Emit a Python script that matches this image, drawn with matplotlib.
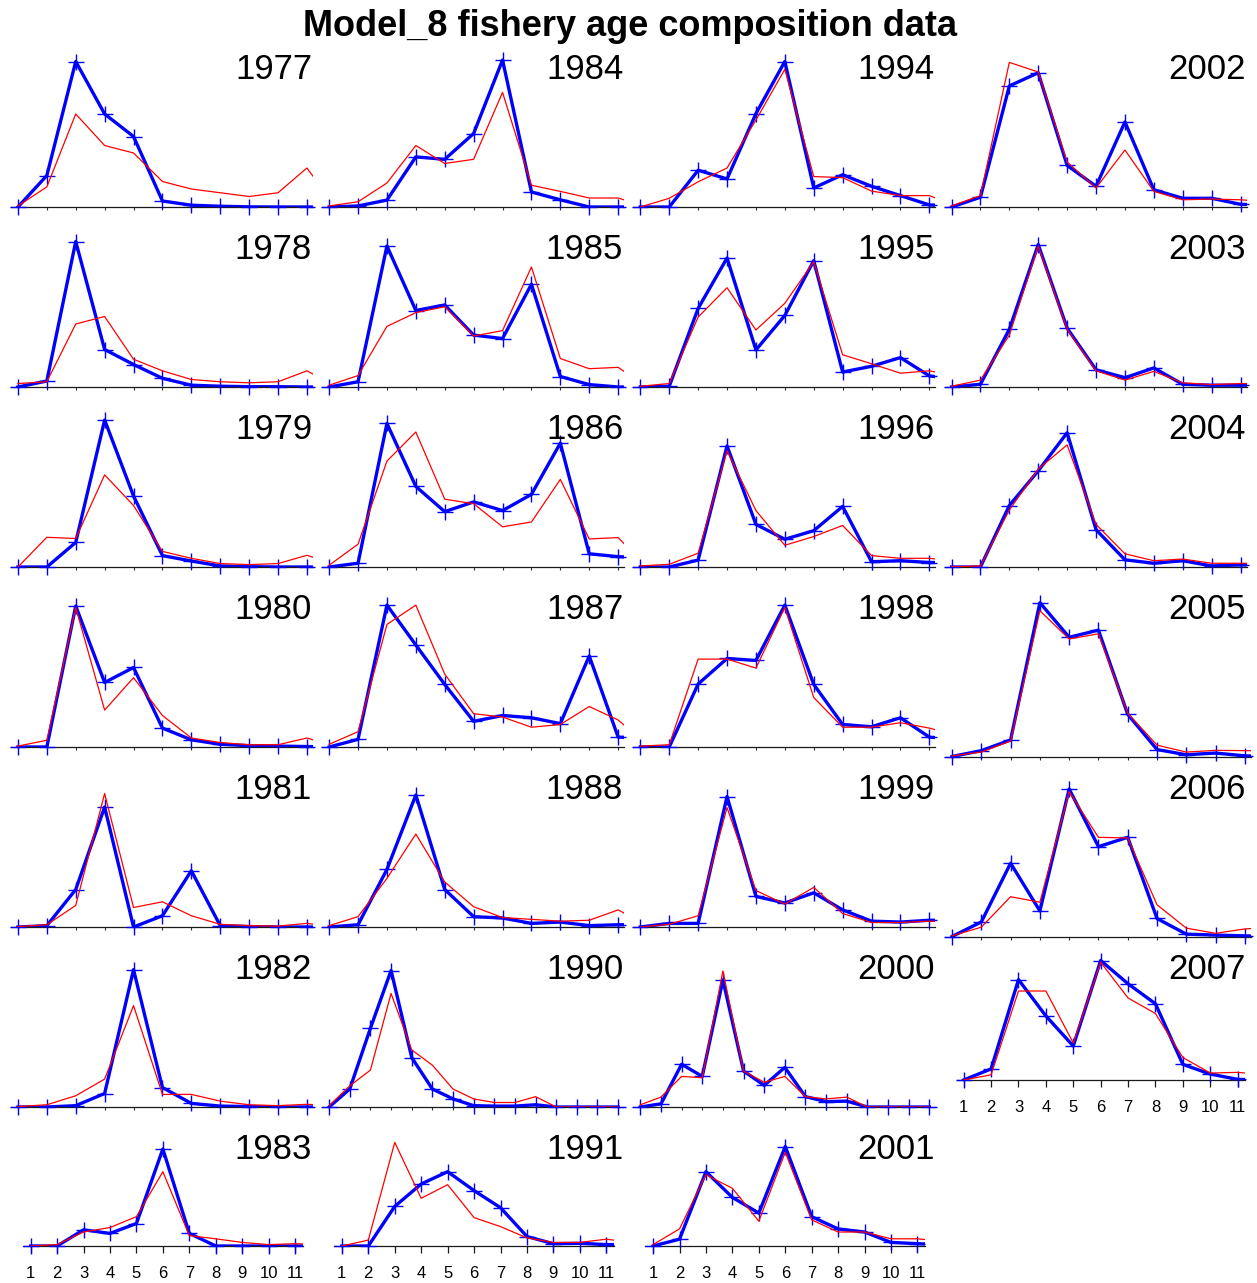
import numpy as np
import matplotlib
matplotlib.use("Agg")
import matplotlib.pyplot as plt

plt.rcParams['font.family'] = ['Liberation Sans', 'DejaVu Sans']

TITLE = "Model_8 fishery age composition data"

# age bins (the 12th is the plus group, running off the right edge of each panel)
AGES = np.arange(1, 13)
AGE_LABELS = [str(a) for a in range(1, 12)]
# two years were sampled on a finer grid of 15 bins over the same age span
BINS15 = np.linspace(1, 11, 15)

# years shown in each column of panels
COL1_YEARS = [1977, 1978, 1979, 1980, 1981, 1982, 1983]
COL2_YEARS = [1984, 1985, 1986, 1987, 1988, 1990, 1991]
COL3_YEARS = [1994, 1995, 1996, 1998, 1999, 2000, 2001]
COL4_YEARS = [2002, 2003, 2004, 2005, 2006, 2007]

# observed (blue) and expected (red) composition, relative units
OBS_1977 = [0, 0.21, 0.97, 0.62, 0.47, 0.04, 0.012, 0.005, 0.001, 0, 0, 0]
EXP_1977 = [0.007, 0.134, 0.62, 0.41, 0.36, 0.17, 0.12, 0.095, 0.07, 0.095, 0.26, 0.0]
OBS_1978 = [0, 0.04, 0.97, 0.25, 0.15, 0.058, 0.012, 0.005, 0.002, 0.002, 0, 0]
EXP_1978 = [0.023, 0.035, 0.42, 0.47, 0.185, 0.108, 0.05, 0.035, 0.028, 0.035, 0.108, 0.005]
OBS_1979 = [0, 0, 0.164, 0.98, 0.473, 0.076, 0.04, 0.007, 0.002, 0, 0, 0]
EXP_1979 = [0, 0.198, 0.19, 0.614, 0.41, 0.104, 0.058, 0.023, 0.016, 0.023, 0.078, 0.016]
OBS_1980 = [0, 0, 0.94, 0.43, 0.53, 0.126, 0.048, 0.018, 0.009, 0.006, 0.003, 0]
EXP_1980 = [0.006, 0.045, 0.93, 0.246, 0.462, 0.21, 0.06, 0.03, 0.015, 0.015, 0.06, 0.0]
OBS_1981 = [0, 0.009, 0.25, 0.80, 0, 0.075, 0.375, 0.009, 0.003, 0, 0, 0]
EXP_1981 = [0.003, 0.015, 0.144, 0.89, 0.13, 0.168, 0.075, 0.018, 0.009, 0.006, 0.024, 0.0]
OBS_1982 = [0, 0, 0.009, 0.09, 0.916, 0.13, 0.024, 0.006, 0.003, 0, 0, 0]
EXP_1982 = [0.003, 0.015, 0.075, 0.186, 0.676, 0.084, 0.084, 0.039, 0.015, 0.009, 0.018, 0.009]
OBS_1983 = [0, 0, 0.162, 0.126, 0.225, 0.97, 0.126, 0, 0, 0, 0, 0]
EXP_1983 = [0, 0.014, 0.14, 0.185, 0.293, 0.743, 0.104, 0.072, 0.036, 0.014, 0.023, 0.014]

OBS_1984 = [0, 0.007, 0.046, 0.334, 0.318, 0.49, 0.98, 0.1, 0.048, 0, 0, 0]
EXP_1984 = [0.007, 0.035, 0.16, 0.41, 0.29, 0.318, 0.764, 0.145, 0.104, 0.06, 0.06, 0.0]
OBS_1985 = [0, 0.035, 0.94, 0.51, 0.547, 0.346, 0.323, 0.685, 0.07, 0.016, 0, 0]
EXP_1985 = [0.012, 0.076, 0.404, 0.496, 0.535, 0.34, 0.376, 0.80, 0.19, 0.122, 0.131, 0.0]
OBS_1986 = [0, 0.025, 0.957, 0.537, 0.369, 0.434, 0.376, 0.484, 0.826, 0.088, 0.069, 0.06]
EXP_1986 = [0.012, 0.152, 0.706, 0.90, 0.452, 0.422, 0.268, 0.30, 0.584, 0.187, 0.196, 0.0]
OBS_1987 = [0, 0.051, 0.946, 0.68, 0.417, 0.171, 0.21, 0.195, 0.156, 0.607, 0.066, 0.06]
EXP_1987 = [0.018, 0.102, 0.817, 0.946, 0.486, 0.222, 0.2, 0.132, 0.15, 0.27, 0.18, 0.015]
OBS_1988 = [0, 0.015, 0.384, 0.88, 0.25, 0.069, 0.06, 0.024, 0.033, 0.009, 0.015, 0.015]
EXP_1988 = [0.009, 0.069, 0.324, 0.62, 0.30, 0.135, 0.063, 0.051, 0.039, 0.045, 0.114, 0.01]
OBS_1990 = [0, 0.12, 0.525, 0.91, 0.33, 0.12, 0.054, 0.009, 0.006, 0.006, 0.015, 0, 0, 0, 0]
EXP_1990 = [0.009, 0.141, 0.246, 0.757, 0.381, 0.279, 0.12, 0.054, 0.03, 0.03, 0.069, 0, 0, 0, 0]
OBS_1991 = [0, 0, 0.396, 0.62, 0.743, 0.554, 0.383, 0.095, 0.023, 0.027, 0.014, 0.014]
EXP_1991 = [0, 0.059, 1.036, 0.477, 0.613, 0.284, 0.194, 0.081, 0.036, 0.036, 0.068, 0.036]

OBS_1994 = [0, 0, 0.245, 0.187, 0.623, 0.97, 0.127, 0.215, 0.138, 0.076, 0.014, 0.007]
EXP_1994 = [0, 0.058, 0.168, 0.26, 0.58, 0.918, 0.203, 0.196, 0.106, 0.076, 0.076, 0.0]
OBS_1995 = [0, 0.005, 0.524, 0.86, 0.247, 0.477, 0.842, 0.1, 0.138, 0.196, 0.074, 0.05]
EXP_1995 = [0.005, 0.023, 0.466, 0.662, 0.38, 0.558, 0.835, 0.215, 0.155, 0.092, 0.108, 0.07]
OBS_1996 = [0, 0, 0.046, 0.807, 0.284, 0.185, 0.242, 0.404, 0.035, 0.042, 0.03, 0.03]
EXP_1996 = [0.007, 0.018, 0.092, 0.775, 0.376, 0.145, 0.203, 0.277, 0.076, 0.058, 0.058, 0.035]
OBS_1998 = [0, 0, 0.42, 0.59, 0.577, 0.946, 0.417, 0.15, 0.135, 0.195, 0.066, 0.05]
EXP_1998 = [0.006, 0.015, 0.586, 0.586, 0.526, 0.93, 0.33, 0.132, 0.132, 0.162, 0.126, 0.075]
OBS_1999 = [0, 0.024, 0.024, 0.87, 0.204, 0.16, 0.228, 0.114, 0.039, 0.033, 0.045, 0.045]
EXP_1999 = [0, 0.018, 0.075, 0.796, 0.243, 0.153, 0.264, 0.09, 0.03, 0.03, 0.039, 0.036]
OBS_2000 = [0, 0.021, 0.285, 0.204, 0.847, 0.24, 0.144, 0.264, 0.069, 0.036, 0.039, 0, 0, 0, 0]
EXP_2000 = [0.015, 0.066, 0.204, 0.195, 0.907, 0.24, 0.165, 0.204, 0.069, 0.054, 0.066, 0, 0, 0, 0]
OBS_2001 = [0, 0.068, 0.743, 0.486, 0.329, 0.995, 0.293, 0.171, 0.14, 0.036, 0.023, 0.014]
EXP_2001 = [0.014, 0.171, 0.712, 0.577, 0.248, 0.937, 0.261, 0.14, 0.14, 0.072, 0.072, 0.045]

OBS_2002 = [0, 0.065, 0.807, 0.895, 0.277, 0.138, 0.567, 0.115, 0.058, 0.058, 0.018, 0.012]
EXP_2002 = [0.007, 0.076, 0.964, 0.9, 0.3, 0.127, 0.38, 0.104, 0.048, 0.053, 0.048, 0.035]
OBS_2003 = [0, 0.018, 0.385, 0.95, 0.392, 0.115, 0.062, 0.127, 0.018, 0.012, 0.012, 0.012]
EXP_2003 = [0.005, 0.046, 0.346, 0.939, 0.385, 0.108, 0.046, 0.104, 0.028, 0.016, 0.023, 0.023]
OBS_2004 = [0, 0, 0.41, 0.641, 0.895, 0.249, 0.048, 0.025, 0.042, 0.007, 0.014, 0.014]
EXP_2004 = [0.002, 0.007, 0.38, 0.653, 0.814, 0.284, 0.088, 0.042, 0.053, 0.025, 0.025, 0.025]
OBS_2005 = [0, 0.037, 0.105, 0.974, 0.755, 0.8, 0.267, 0.044, 0.011, 0.022, 0.004, 0]
EXP_2005 = [0.004, 0.028, 0.098, 0.923, 0.744, 0.777, 0.274, 0.072, 0.028, 0.039, 0.037, 0.037]
OBS_2006 = [0, 0.092, 0.464, 0.162, 0.934, 0.569, 0.628, 0.114, 0.015, 0.009, 0.004, 0]
EXP_2006 = [0.004, 0.059, 0.252, 0.217, 0.917, 0.628, 0.624, 0.201, 0.053, 0.02, 0.048, 0.06]
OBS_2007 = [0, 0.086, 0.777, 0.496, 0.263, 0.925, 0.745, 0.59, 0.121, 0.046, 0.005, 0]
EXP_2007 = [0, 0.04, 0.689, 0.689, 0.287, 0.912, 0.635, 0.515, 0.174, 0.054, 0.059, 0.04]

FINE_YEARS = {1990, 2000}

obs_by_year = {int(k[4:]): np.asarray(v, float) for k, v in dict(globals()).items()
               if k.startswith("OBS_")}
exp_by_year = {int(k[4:]): np.asarray(v, float) for k, v in dict(globals()).items()
               if k.startswith("EXP_")}

BLUE = "#0000ff"
RED = "#ff0000"

W, H = 1257, 1283
fig = plt.figure(figsize=(W / 100, H / 100), dpi=100)


def px_axes(left, top, right, bottom):
    return fig.add_axes([left / W, 1 - bottom / H, (right - left) / W, (bottom - top) / H])


COL_STEP = 311.2
ROW_STEP = 180.0


def panel_frame(col, row, year):
    """Pixel frame, x-limits and whether the panel carries the age axis."""
    off = COL_STEP * col
    if row == 6:
        return (23 + off, 1126, 303 + off, 1246), (0.71, 11.30), True
    if year == 2007:
        return (957, 925, 1245, 1080), (0.755, 11.27), True
    top = 27 + ROW_STEP * row
    if year in (2005, 2006):
        return (945, top, 1251, top + 189.5), (0.76, 11.21), False
    return (11 + off, top, 313 + off, top + ROW_STEP), (0.76, 11.21), False


columns = [COL1_YEARS, COL2_YEARS, COL3_YEARS, COL4_YEARS]
for col, years in enumerate(columns):
    for row, year in enumerate(years):
        (l, t, r, b), xlim, labelled = panel_frame(col, row, year)
        ax = px_axes(l, t, r, b)
        ax.patch.set_visible(False)
        x = BINS15 if year in FINE_YEARS else AGES
        obs = obs_by_year[year]
        exp = exp_by_year[year]

        ax.plot(x, obs, color=BLUE, lw=2.4, zorder=2)
        shown = x <= 11 + 1e-9
        ax.plot(x[shown], obs[shown], ls="none", marker="+", ms=12, mew=1.0,
                color=BLUE, clip_on=False, zorder=3)
        ax.plot(x, exp, color=RED, lw=0.9, zorder=4)

        ax.set_xlim(*xlim)
        ax.set_ylim(0, 1.2)
        for side in ("left", "right", "top"):
            ax.spines[side].set_visible(False)
        ax.spines["bottom"].set_color("#1a1a1a")
        ax.spines["bottom"].set_linewidth(0.9)
        ax.set_yticks([])
        ax.set_xticks(x[shown])
        if labelled:
            ax.set_xticklabels(AGE_LABELS)
            ax.tick_params(axis="x", direction="out", length=4.8, width=0.9,
                           color="#1a1a1a", labelsize=12, pad=9.5)
        else:
            ax.tick_params(axis="x", direction="out", length=2.2, width=0.8,
                           color="#333333", labelbottom=False)

        fig.text((312 + COL_STEP * col) / W, 1 - (79 + ROW_STEP * row) / H, str(year),
                 ha="right", va="baseline", fontsize=25)

fig.text(630 / W, 1 - 36 / H, TITLE, ha="center", va="baseline",
         fontsize=26, fontweight="bold")

fig.savefig("out.png", dpi=100)
